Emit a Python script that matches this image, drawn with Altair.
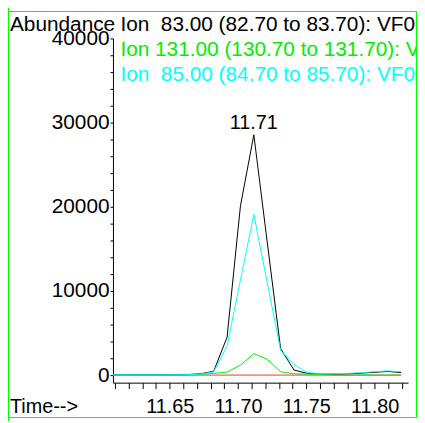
import altair as alt
import pandas as pd

# ---- data ----
times = [11.6038, 11.6136, 11.6234, 11.6332, 11.6430, 11.6528, 11.6626, 11.6724,
         11.6822, 11.6920, 11.7018, 11.7116, 11.7214, 11.7312, 11.7410, 11.7508,
         11.7606, 11.7704, 11.7802, 11.7900, 11.7998, 11.8096, 11.8194]

ion_83 = [30, 30, 30, 30, 40, 40, 60, 150,
          450, 4500, 20100, 28550, 15800, 3150, 600, 200,
          130, 120, 140, 230, 330, 430, 300]

ion_131 = [0, 0, 0, 0, 0, 0, 0, 80,
           200, 350, 1180, 2550, 1880, 400, 150, 120,
           60, 0, 0, 0, 0, 0, 0]

ion_85 = [20, 20, 20, 20, 20, 30, 40, 120,
          380, 3460, 11300, 19100, 11000, 2950, 1250, 300,
          160, 170, 200, 280, 400, 500, 400]

ion_other = [0, 0, 0, 0, 0, 0, 0, 0,
             0, 0, 0, 0, 0, 0, 0, 0,
             0, 0, 0, 0, 0, 0, 0]

series_names = ["Ion 83.00", "Ion 131.00", "Ion 85.00", "Other"]
series_colors = ["#000000", "#00ee00", "#00ffff", "#ff3030"]

legend_lines = ["Ion\u00a0 83.00 (82.70 to 83.70): VF0",
                "Ion 131.00 (130.70 to 131.70): V",
                "Ion\u00a0 85.00 (84.70 to 85.70): VF0"]

x_ticks = [11.61, 11.62, 11.63, 11.64, 11.65, 11.66, 11.67, 11.68, 11.69, 11.70, 11.71,
           11.72, 11.73, 11.74, 11.75, 11.76, 11.77, 11.78, 11.79, 11.80, 11.81, 11.82]
x_labels = ["11.65", "11.70", "11.75", "11.80"]
y_ticks = [0, 2000, 4000, 6000, 8000, 10000, 12000, 14000, 16000, 18000, 20000,
           22000, 24000, 26000, 28000, 30000, 32000, 34000, 36000, 38000, 40000]

rows = []
for name, vals in zip(series_names, [ion_83, ion_131, ion_85, ion_other]):
    for t, v in zip(times, vals):
        rows.append({"time": t, "abundance": v, "ion": name})
df = pd.DataFrame(rows)

FONT = "Liberation Sans"
GREEN = "#00ff00"

label_list = "[" + ",".join("'%s'" % s for s in x_labels) + "]"
x_enc = alt.X(
    "time:Q",
    scale=alt.Scale(domain=[11.6085, 11.8245], nice=False, zero=False),
    axis=alt.Axis(values=x_ticks, tickSize=6, labelPadding=8, labelOverlap=False,
                  labelFlush=False, title=None, labelFontSize=20,
                  labelExpr="indexof(%s, format(datum.value, '.2f')) >= 0 ? format(datum.value, '.2f') : ''" % label_list),
)
y_enc = alt.Y(
    "abundance:Q",
    scale=alt.Scale(domain=[-900, 40000], nice=False, zero=False),
    axis=alt.Axis(values=y_ticks, tickSize=3, labelPadding=1, labelOverlap=False,
                  labelFlush=False, title=None, labelFontSize=21,
                  labelExpr="datum.value % 10000 == 0 ? format(datum.value, 'd') : ''"),
)

base = alt.Chart(df)


def line(name, color):
    return base.transform_filter(alt.datum.ion == name).mark_line(
        color=color, strokeWidth=1, clip=True
    ).encode(x=x_enc, y=y_enc)


layers = [line(series_names[3], series_colors[3]),
          line(series_names[0], series_colors[0]),
          line(series_names[1], series_colors[1]),
          line(series_names[2], series_colors[2])]

peak = base.transform_filter(alt.datum.ion == series_names[0]).transform_window(
    rank="rank()", sort=[alt.SortField("abundance", order="descending")]
).transform_filter("datum.rank == 1").mark_text(
    font=FONT, fontSize=20, color="black", baseline="alphabetic", align="center", dy=-6
).encode(x=x_enc, y=y_enc, text=alt.Text("time:Q", format=".2f"))
layers.append(peak)


def label(text, x, y, color, size):
    return alt.Chart(alt.Data(values=[{"t": text}])).mark_text(
        font=FONT, fontSize=size, color=color, align="left", baseline="alphabetic"
    ).encode(x=alt.value(x), y=alt.value(y), text="t:N")


layers.append(label("Abundance", -104, -7.4, "black", 21))
layers.append(label(legend_lines[0], 7.5, -7.4, "black", 21))
layers.append(label(legend_lines[1], 7.5, 17.8, "#00ee00", 21))
layers.append(label(legend_lines[2], 7.5, 42.8, "#00ffff", 21))
layers.append(label("Time-->", -104, 377.8, "black", 20))


def frame(**kw):
    return alt.Chart(alt.Data(values=[{"a": 1}])).mark_rule(
        color=GREEN, strokeWidth=1.2
    ).encode(**{k: alt.value(v) for k, v in kw.items()})


layers.append(frame(x=-105.5, y=-37, y2=390))
layers.append(frame(x=-114, x2=307, y=-27.2))
layers.append(frame(x=306.5, y=-27.2, y2=382.8))
layers.append(frame(x=-114, x2=307, y=382.8))

chart = alt.layer(*layers).properties(
    width=298, height=347.6,
    autosize=alt.AutoSizeParams(type="none"),
    padding={"left": 106, "top": 28.7, "right": 9, "bottom": 36.7},
).configure_view(stroke=None).configure_axis(
    labelFont=FONT, labelColor="black",
    domainColor="black", tickColor="black", domainWidth=1, tickWidth=1, grid=False,
)

chart.save("out.html", embed_options={"renderer": "svg", "actions": False})
